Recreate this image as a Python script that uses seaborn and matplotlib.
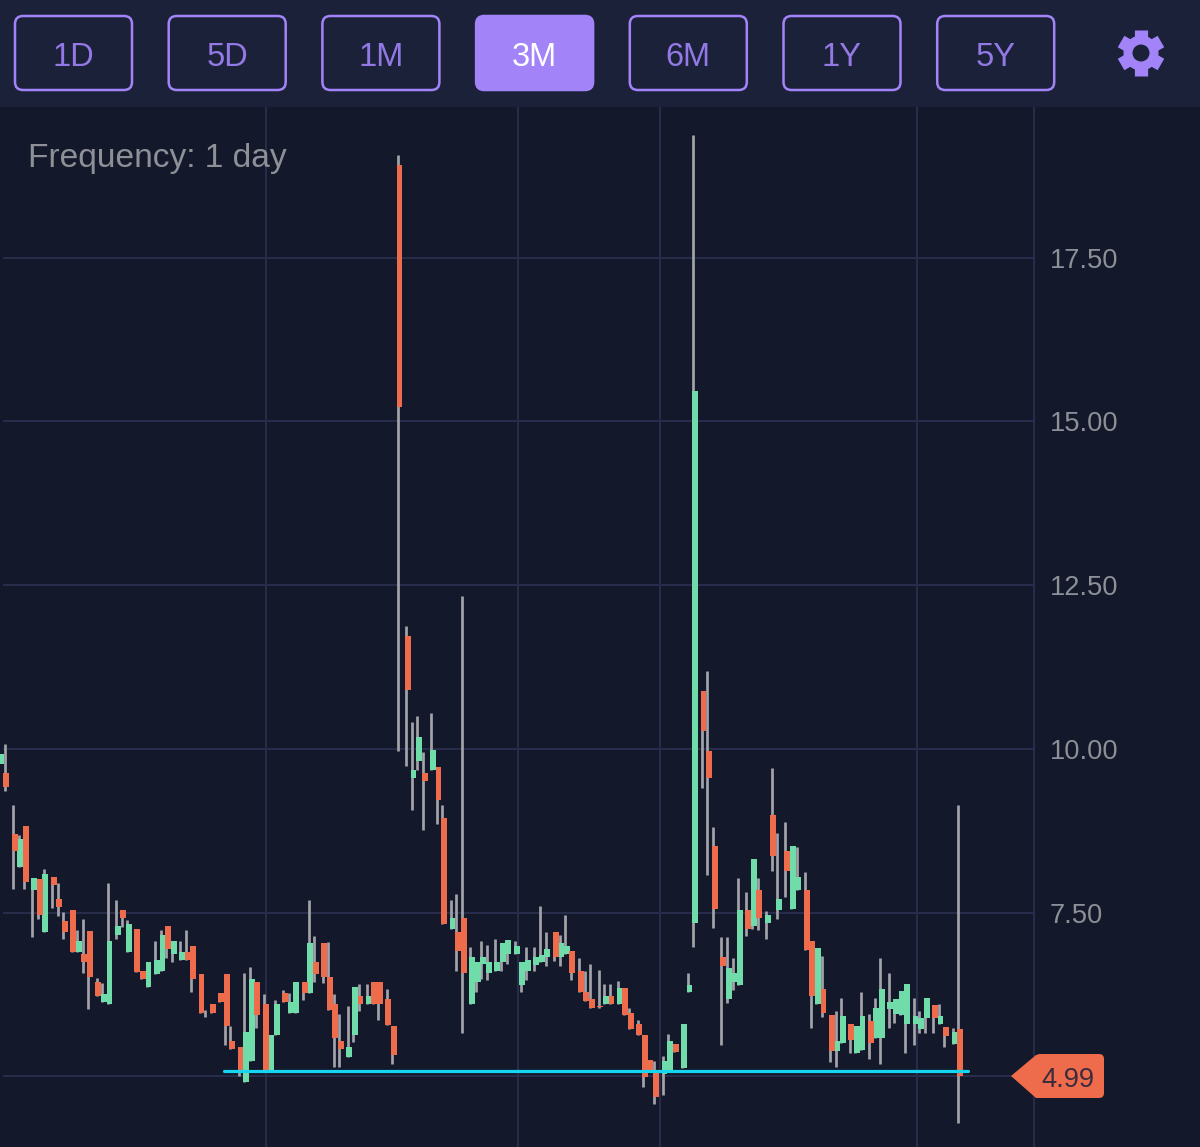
import numpy as np
import pandas as pd
import seaborn as sns
import matplotlib.pyplot as plt
from matplotlib.patches import FancyBboxPatch, Polygon, Circle, Rectangle

# Daily candles (day number along the time axis)
days = [0, 2, 5, 7, 9, 12, 14, 16, 19, 21, 23, 26, 28, 30, 32, 35, 37, 39, 42, 44,
        46, 49, 51, 53, 56, 58, 60, 62, 65, 67, 69, 72, 74, 76, 79, 81, 83, 86, 88, 90,
        92, 95, 97, 99, 102, 104, 106, 109, 111, 113, 116, 118, 120, 122, 125, 127, 129, 132, 134, 136,
        139, 141, 143, 146, 148, 150, 152, 155, 157, 159, 162, 164, 166, 169, 171, 173, 175, 178, 180, 182,
        185, 187, 189, 192, 194, 196, 199, 201, 203, 205, 208, 210, 212, 215, 217, 219, 222, 224, 226, 229,
        231, 233, 235, 238, 240, 242, 245, 247, 249, 252, 254, 256, 259, 261, 263, 265, 268, 270, 272, 275,
        277, 279, 282, 284, 286, 289, 291, 293, 295, 298, 300, 302, 305, 307, 309, 312, 314, 316, 319, 321,
        323, 325, 328, 330, 332, 335, 337, 339, 342, 344]
opens = [9.77, 9.63, 8.70, 8.19, 8.82, 7.84, 8.01, 7.21, 8.05, 7.71, 7.37, 7.54, 6.90, 6.86, 7.22, 6.44, 6.14, 6.10, 7.16, 7.54,
         6.90, 7.25, 6.60, 6.36, 6.56, 6.60, 7.29, 6.87, 6.78, 6.90, 6.99, 6.56, 5.97, 6.10, 6.27, 6.56, 5.54, 5.45, 4.91, 5.24,
         6.44, 6.10, 5.10, 5.63, 6.27, 5.97, 5.97, 6.44, 6.27, 6.74, 7.03, 6.52, 6.10, 5.54, 5.29, 5.63, 6.23, 6.10, 6.44, 6.44,
         6.18, 5.76, 18.92, 11.72, 9.55, 9.81, 9.63, 9.68, 9.72, 8.94, 7.25, 7.20, 7.42, 6.10, 6.44, 6.71, 6.57, 6.61, 6.74, 6.86,
         6.86, 6.40, 6.61, 6.70, 6.74, 6.82, 7.20, 6.82, 6.86, 6.91, 6.61, 6.28, 6.18, 6.07, 6.10, 6.22, 6.10, 6.35, 5.97, 5.80,
         5.63, 5.25, 5.09, 5.03, 5.09, 5.50, 5.12, 6.28, 7.34, 10.88, 9.97, 8.52, 6.82, 6.18, 6.44, 6.40, 7.54, 7.29, 7.85, 7.34,
         8.99, 7.54, 8.44, 7.55, 7.85, 7.85, 7.07, 6.10, 6.34, 5.94, 5.38, 5.51, 5.80, 5.36, 5.40, 5.84, 5.59, 5.59, 6.02, 5.95,
         5.93, 5.80, 5.80, 5.72, 5.89, 6.09, 5.80, 5.75, 5.50, 5.72]
closes = [9.92, 9.41, 8.44, 8.62, 7.96, 8.03, 7.47, 8.09, 7.92, 7.58, 7.20, 6.89, 7.07, 6.74, 6.52, 6.23, 6.26, 7.07, 7.29, 7.41,
          7.33, 6.59, 6.48, 6.74, 6.78, 7.16, 6.95, 7.07, 6.90, 6.78, 6.48, 5.97, 5.96, 5.97, 6.14, 5.76, 5.41, 5.10, 5.67, 6.48,
          5.93, 5.10, 5.63, 6.10, 6.14, 6.14, 6.44, 6.27, 7.03, 6.56, 6.52, 6.01, 5.59, 5.41, 5.45, 6.36, 6.10, 6.23, 6.10, 6.10,
          5.79, 5.33, 15.22, 10.90, 9.67, 10.18, 9.51, 9.98, 9.22, 7.33, 7.42, 6.92, 6.57, 6.82, 6.74, 6.82, 6.74, 6.74, 7.03, 7.08,
          6.99, 6.74, 6.78, 6.82, 6.85, 6.95, 6.82, 7.03, 6.99, 6.57, 6.28, 6.15, 6.05, 6.06, 6.22, 6.10, 6.35, 5.94, 5.72, 5.63,
          4.99, 5.09, 4.69, 5.24, 5.54, 5.37, 5.80, 6.40, 15.47, 10.27, 9.55, 7.55, 6.69, 6.65, 6.57, 7.54, 7.25, 8.32, 7.41, 7.46,
          8.36, 7.71, 8.14, 8.52, 8.05, 6.93, 6.23, 6.96, 5.96, 5.38, 5.54, 5.92, 5.55, 5.76, 5.92, 5.51, 6.05, 6.34, 6.13, 6.18,
          6.30, 6.41, 5.92, 5.89, 6.19, 5.89, 5.92, 5.62, 5.67, 5.00]
highs = [9.92, 10.08, 9.14, 8.69, 8.82, 8.03, 8.01, 8.16, 8.05, 7.95, 7.51, 7.54, 7.23, 7.40, 7.22, 6.50, 6.42, 7.95, 7.69, 7.54,
         7.39, 7.25, 6.60, 6.74, 7.06, 7.24, 7.29, 7.07, 7.06, 7.23, 6.99, 6.56, 6.01, 6.10, 6.27, 6.56, 5.76, 5.45, 6.58, 6.67,
         6.44, 6.25, 5.63, 6.16, 6.32, 6.27, 6.44, 6.44, 7.69, 7.14, 7.03, 7.05, 6.25, 5.95, 6.07, 6.36, 6.41, 6.41, 6.44, 6.44,
         6.33, 5.76, 19.07, 11.87, 10.41, 10.50, 9.95, 10.54, 9.72, 9.14, 7.69, 7.78, 12.34, 6.97, 6.74, 7.06, 7.01, 7.09, 7.03, 7.08,
         7.06, 6.74, 6.97, 6.97, 7.60, 7.21, 7.20, 7.16, 7.47, 6.91, 6.80, 6.60, 6.71, 6.63, 6.41, 6.41, 6.46, 6.35, 6.05, 5.86,
         5.63, 5.25, 5.23, 5.31, 5.64, 5.50, 5.80, 6.58, 19.37, 10.88, 11.19, 8.80, 7.13, 7.13, 6.80, 8.03, 7.82, 8.32, 8.03, 7.52,
         9.70, 8.71, 8.88, 8.52, 8.50, 8.12, 7.07, 6.96, 6.84, 5.94, 5.99, 6.20, 5.80, 5.76, 6.28, 5.95, 6.20, 6.80, 6.58, 6.18,
         6.30, 6.41, 6.20, 5.99, 6.19, 6.09, 6.11, 5.75, 5.73, 9.14]
lows = [9.77, 9.36, 7.86, 8.19, 7.86, 7.13, 7.40, 7.21, 7.57, 7.44, 7.10, 6.89, 6.90, 6.58, 6.03, 6.23, 6.14, 6.10, 7.10, 7.28,
        6.90, 6.59, 6.48, 6.36, 6.56, 6.60, 6.80, 6.75, 6.78, 6.78, 6.29, 5.97, 5.90, 5.97, 6.14, 5.48, 5.41, 5.01, 4.91, 5.24,
        5.73, 5.10, 5.10, 5.63, 6.14, 5.97, 5.97, 6.16, 6.27, 6.44, 6.42, 6.01, 5.14, 5.14, 5.29, 5.52, 5.99, 6.10, 6.10, 5.86,
        5.79, 5.18, 9.96, 9.74, 9.06, 9.67, 8.76, 9.68, 8.85, 7.33, 7.25, 6.60, 5.66, 6.10, 6.29, 6.49, 6.47, 6.61, 6.60, 6.72,
        6.86, 6.29, 6.47, 6.60, 6.74, 6.69, 6.76, 6.69, 6.86, 6.47, 6.28, 6.15, 6.05, 6.05, 6.10, 6.10, 6.10, 5.94, 5.72, 5.63,
        4.84, 5.09, 4.58, 4.71, 5.09, 5.37, 5.12, 6.28, 6.98, 9.40, 8.08, 7.27, 5.48, 6.12, 6.32, 6.40, 7.14, 7.25, 7.23, 7.09,
        8.13, 7.40, 7.73, 7.55, 7.85, 6.93, 5.73, 6.10, 5.91, 5.22, 5.14, 5.51, 5.35, 5.36, 5.40, 5.27, 5.59, 5.18, 5.73, 5.82,
        5.93, 5.35, 5.48, 5.66, 5.66, 5.66, 5.80, 5.44, 5.50, 4.28]

price_ticks = [5.0, 7.5, 10.0, 12.5, 15.0, 17.5]
price_labels = ['', '7.50', '10.00', '12.50', '15.00', '17.50']
month_ticks = [95.1, 185.5, 236.4, 328.6]
support_days = [80, 347]
support_price = [5.08, 5.08]
ranges = ['1D', '5D', '1M', '3M', '6M', '1Y', '5Y']
active_range = '3M'
last_price = '4.99'

BG = '#13182a'
HEADER = '#1b2139'
GRID = '#262c49'
PURPLE = '#a384f8'
RED = '#ee6b4b'
GREEN = '#70dcaa'
WICK = '#a3a3aa'
CYAN = '#16d5f0'
LABEL = '#8e9097'

sns.set_theme(style='dark', rc={'figure.facecolor': BG, 'axes.facecolor': BG})
plt.rcParams['font.family'] = ['Liberation Sans', 'DejaVu Sans']

df = pd.DataFrame({'day': days, 'open': opens, 'close': closes, 'high': highs, 'low': lows})
df['height'] = (df['close'] - df['open']).abs()
df['bottom'] = df[['open', 'close']].min(axis=1)

fig = plt.figure(figsize=(12, 11.47), dpi=100)
ax = fig.add_axes([0, 0, 1034 / 1200, 1040 / 1147])

# Wicks sit a little left of the bodies in the original
ax.vlines(df['day'] - 0.6, df['low'], df['high'], color=WICK, linewidth=1.95, zorder=2)

for is_up, colour in [(True, GREEN), (False, RED)]:
    part = df[(df['close'] > df['open']) == is_up]
    sns.barplot(data=part, x='day', y='height', bottom=part['bottom'].values, native_scale=True,
                color=colour, saturation=1, width=1.05, errorbar=None, ax=ax, zorder=3, linewidth=0)

sns.lineplot(x=support_days, y=support_price, color=CYAN, linewidth=2.3, ax=ax, zorder=4, errorbar=None)

ax.set_xlim(-0.24, 370.5)
ax.set_ylim(3.92, 19.80)
ax.set_xlabel('')
ax.set_ylabel('')
ax.set_xticks(month_ticks, [''] * len(month_ticks))
ax.set_yticks(price_ticks, price_labels)
ax.yaxis.tick_right()
ax.tick_params(axis='x', length=0)
ax.tick_params(axis='y', length=0, pad=11.5, labelsize=19.6, labelcolor=LABEL, labelright=True)
ax.grid(True, axis='x', color=GRID, linewidth=1.5)
ax.hlines(price_ticks, 0.8, 370.5, color=GRID, linewidth=1.5, zorder=1)
ax.set_axisbelow(True)
for side in ['top', 'left', 'bottom']:
    ax.spines[side].set_visible(False)
ax.spines['right'].set_color(GRID)
ax.spines['right'].set_linewidth(1.5)

# Screen furniture in pixel coordinates: range buttons, gear, price tag
ui = fig.add_axes([0, 0, 1, 1])
ui.set_xlim(0, 1200)
ui.set_ylim(1147, 0)
ui.axis('off')
ui.patch.set_alpha(0)

ui.add_patch(Rectangle((0, 0), 1200, 107, color=HEADER, linewidth=0))
for i, name in enumerate(ranges):
    left = 14 + i * 153.7
    is_active = name == active_range
    ui.add_patch(FancyBboxPatch((left + 9, 24), 101, 58, boxstyle='round,pad=8,rounding_size=8',
                                facecolor=PURPLE if is_active else 'none', edgecolor=PURPLE, linewidth=1.8))
    ui.text(left + 59.5, 57, name, color='white' if is_active else '#9379e6', fontsize=23.5,
            ha='center', va='center')

# gear
for angle in [90, 30, -30]:
    dx, dy = 23 * np.cos(np.radians(angle)), 23 * np.sin(np.radians(angle))
    ui.plot([1141 - dx, 1141 + dx], [53 - dy, 53 + dy], color=PURPLE, linewidth=9.5,
            solid_capstyle='butt', zorder=2)
ui.add_patch(Circle((1141, 53), 17.5, color=PURPLE, linewidth=0, zorder=3))
ui.add_patch(Circle((1141, 53), 8.5, color=HEADER, linewidth=0, zorder=4))

ui.text(28, 158, 'Frequency: 1 day', color=LABEL, fontsize=24.1, ha='left', va='center')

# price tag
ui.plot([1034, 1015], [1076, 1076], color=GRID, linewidth=1.5, zorder=0.5)
ui.add_patch(Polygon([(1011, 1076), (1036, 1055), (1050, 1055), (1050, 1098), (1036, 1098)],
                     closed=True, color=RED, linewidth=0, zorder=3))
ui.add_patch(FancyBboxPatch((1040, 1059), 59, 34, boxstyle='round,pad=5,rounding_size=5', color=RED,
                            linewidth=0, zorder=3))
ui.text(1068, 1080, last_price, color='#3a2c3c', fontsize=19.6, ha='center', va='center', zorder=4)

plt.savefig('out.png', dpi=100, facecolor=BG)
